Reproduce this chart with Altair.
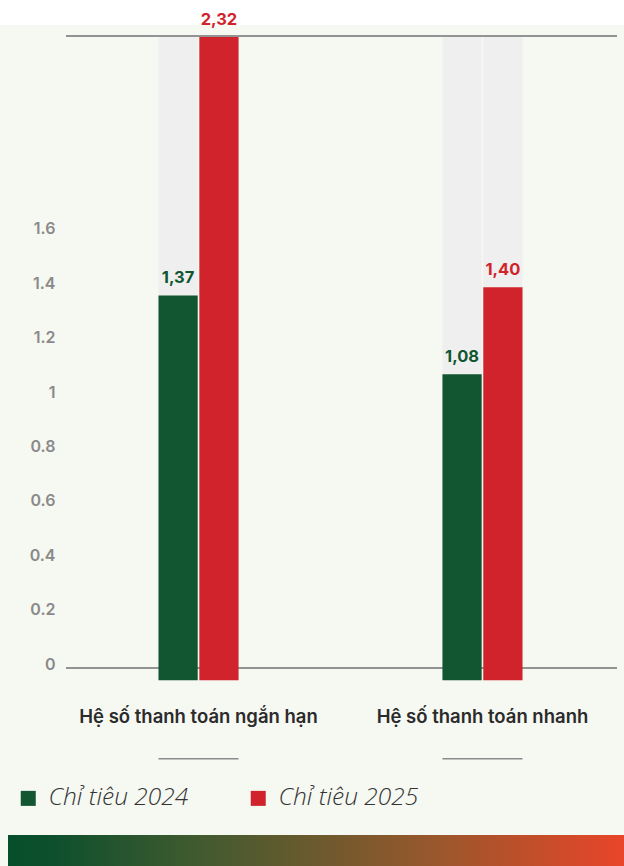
import altair as alt
import pandas as pd

# Chart values
CATEGORIES = ["Hệ số thanh toán ngắn hạn", "Hệ số thanh toán nhanh"]
SERIES = ["Chỉ tiêu 2024", "Chỉ tiêu 2025"]
VALUES_2024 = [1.37, 1.08]
VALUES_2025 = [2.32, 1.40]
AXIS_TICKS = [0, 0.2, 0.4, 0.6, 0.8, 1, 1.2, 1.4, 1.6]

GREEN = "#115631"
RED = "#d1232b"
BG = "#f6f8f2"
TRACK = "#efefef"
LINE = "#8c8c8c"

W, H = 624, 866

rows = []
for cat, v24, v25 in zip(CATEGORIES, VALUES_2024, VALUES_2025):
    for s, v in zip(SERIES, (v24, v25)):
        rows.append({"cat": cat, "series": s, "value": v,
                     "label": f"{v:.2f}".replace(".", ",")})
df = pd.DataFrame(rows)
cats = pd.DataFrame({"cat": CATEGORIES})

top = max(VALUES_2024 + VALUES_2025)
base = -0.045  # bars hang slightly below the baseline

x_scale = alt.Scale(domain=CATEGORIES, range=[16.5, 664.5],
                    paddingInner=0.718, paddingOuter=0.5)
xo_scale = alt.Scale(domain=SERIES, paddingInner=0.04)
y_scale = alt.Scale(domain=[0, top], range=[668, 37], nice=False, zero=False)
color_scale = alt.Scale(domain=SERIES, range=[GREEN, RED])

X = alt.X("cat:N", scale=x_scale, axis=None, sort=CATEGORIES)
XO = alt.XOffset("series:N", scale=xo_scale, sort=SERIES)

background = alt.Chart(cats).mark_rect(color=BG).encode(
    x=alt.value(0), x2=alt.value(W), y=alt.value(25), y2=alt.value(H)
)

gradient = alt.Chart(cats).mark_rect(
    color=alt.Gradient(
        gradient="linear", x1=0, x2=1, y1=0, y2=0,
        stops=[
            alt.GradientStop(offset=0.0, color="#064f2c"),
            alt.GradientStop(offset=0.07, color="#0d502d"),
            alt.GradientStop(offset=0.3, color="#3f5a2f"),
            alt.GradientStop(offset=0.5, color="#6b5a2e"),
            alt.GradientStop(offset=0.7, color="#9b572c"),
            alt.GradientStop(offset=0.87, color="#c64d2a"),
            alt.GradientStop(offset=1.0, color="#e9452a"),
        ],
    )
).encode(x=alt.value(8), x2=alt.value(W), y=alt.value(835), y2=alt.value(H))

tracks = alt.Chart(df).mark_bar(color=TRACK).encode(
    x=X, xOffset=XO,
    y=alt.Y(datum=top, scale=y_scale),
    y2=alt.datum(base),
)

zero_line = alt.Chart(cats).mark_rule(color=LINE, strokeWidth=1.5).encode(
    y=alt.Y(datum=0, scale=y_scale), x=alt.value(66), x2=alt.value(617)
)
top_line = alt.Chart(cats).mark_rule(color=LINE, strokeWidth=1.5, yOffset=-1).encode(
    y=alt.Y(datum=top, scale=y_scale), x=alt.value(66), x2=alt.value(617)
)

bars = alt.Chart(df).mark_bar().encode(
    x=X, xOffset=XO,
    y=alt.Y("value:Q", scale=y_scale, title=None,
            axis=alt.Axis(values=AXIS_TICKS, format="~g", domain=False,
                          ticks=False, grid=False, offset=-57, labelPadding=2,
                          labelOffset=-4,
                          labelColor="#8a8a8a", labelFontSize=16,
                          labelFont="Inter", labelFontWeight=600, zindex=2)),
    y2=alt.datum(base),
    color=alt.Color("series:N", scale=color_scale, sort=SERIES, title=None,
                    legend=alt.Legend(orient="none", legendX=16, legendY=786,
                                      direction="horizontal", symbolType="square",
                                      symbolSize=225, symbolStrokeWidth=0,
                                      labelFont="Open Sans", labelFontStyle="italic",
                                      labelFontWeight=300, labelFontSize=24.5,
                                      labelColor="#333333", labelOffset=8,
                                      columnPadding=57, zindex=2)),
)

value_labels = alt.Chart(df).mark_text(
    baseline="bottom", dy=-9, font="Inter", fontWeight=700, fontSize=16.5
).encode(
    x=X, xOffset=XO,
    y=alt.Y("value:Q", scale=y_scale),
    text="label:N",
    color=alt.Color("series:N", scale=color_scale, legend=None),
)

cat_labels = alt.Chart(cats).mark_text(
    font="Inter", fontWeight=600, fontSize=18.5, color="#2b2b2b"
).encode(x=X, y=alt.value(717), text="cat:N")

underlines = alt.Chart(cats).mark_bar(color=LINE).encode(
    x=X, y=alt.value(758), y2=alt.value(759.5)
)

chart = alt.layer(
    background, gradient, tracks, zero_line, top_line, bars,
    value_labels, cat_labels, underlines
).properties(
    width=W, height=H, padding=0, background="white",
    autosize=alt.AutoSizeParams(type="none")
).configure_view(stroke=None)

chart.save("out.html", embed_options={"renderer": "svg", "actions": False})
